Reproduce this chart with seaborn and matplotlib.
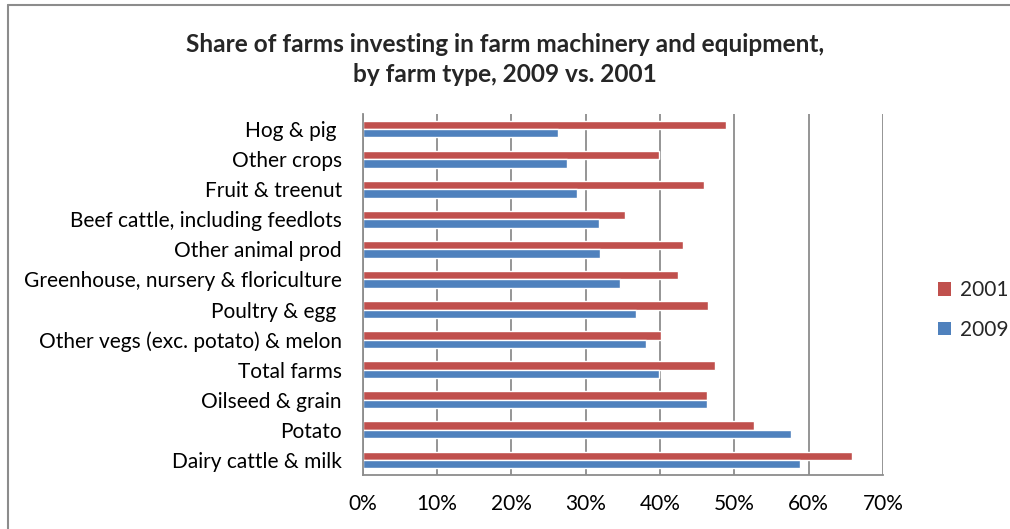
import matplotlib
matplotlib.use("Agg")
import matplotlib.pyplot as plt
from matplotlib.lines import Line2D
from matplotlib.patches import Patch
from matplotlib.ticker import FuncFormatter
import seaborn as sns
import pandas as pd

farm_types = [
    "Hog & pig ",
    "Other crops",
    "Fruit & treenut",
    "Beef cattle, including feedlots",
    "Other animal prod",
    "Greenhouse, nursery & floriculture",
    "Poultry & egg ",
    "Other vegs (exc. potato) & melon",
    "Total farms",
    "Oilseed & grain",
    "Potato",
    "Dairy cattle & milk",
]
share_2001 = [48.9, 39.9, 45.9, 35.3, 43.1, 42.4, 46.5, 40.2, 47.4, 46.3, 52.7, 65.9]
share_2009 = [26.3, 27.5, 28.8, 31.8, 32.0, 34.6, 36.8, 38.1, 39.9, 46.4, 57.6, 58.9]
years = ["2001", "2009"]
x_ticks = [0, 10, 20, 30, 40, 50, 60, 70]

df = pd.DataFrame({
    "type": farm_types * 2,
    "share": share_2001 + share_2009,
    "year": [years[0]] * len(farm_types) + [years[1]] * len(farm_types),
})

colors = {"2001": "#C0504D", "2009": "#4F81BD"}
grid_color = "#8C8C8C"

sns.set_style("white")
plt.rcParams["font.family"] = ["Lato", "DejaVu Sans"]

fig = plt.figure(figsize=(10.10, 5.29), dpi=100)
ax = fig.add_axes([0.3591, 0.1021, 0.5150, 0.6824])

sns.barplot(data=df, y="type", x="share", hue="year", hue_order=years,
            order=farm_types, palette=colors, width=0.56, orient="h",
            saturation=1, legend=False, ax=ax)

ax.set_xlim(0, 70)
ax.set_xticks(x_ticks)
ax.xaxis.set_major_formatter(FuncFormatter(lambda v, _: f"{v:.0f}%"))
ax.grid(axis="x", color=grid_color, linewidth=1.3)
ax.set_axisbelow(True)
ax.set_xlabel("")
ax.set_ylabel("")

for side in ["top", "right"]:
    ax.spines[side].set_visible(False)
for side in ["left", "bottom"]:
    ax.spines[side].set_color(grid_color)
    ax.spines[side].set_linewidth(1.3)

ax.tick_params(axis="x", length=0, pad=14, labelsize=15, colors="black")
ax.tick_params(axis="y", length=0, pad=15, labelsize=15, colors="black")

fig.text(0.5, 1 - 44 / 529, "Share of farms investing in farm machinery and equipment,",
         ha="center", va="center", fontsize=17.6, fontweight="bold")
fig.text(0.5, 1 - 74 / 529, "by farm type, 2009 vs. 2001",
         ha="center", va="center", fontsize=17.6, fontweight="bold")

handles = [Patch(facecolor=colors[y], edgecolor="none", label=y) for y in years]
fig.legend(handles=handles, loc="center left", bbox_to_anchor=(0.9287, 1 - 310 / 529),
           frameon=False, fontsize=15, handlelength=0.62, handleheight=0.62,
           handletextpad=0.45, labelspacing=0.95, borderaxespad=0, borderpad=0)

# chart-area outline
fig.add_artist(Line2D([8 / 1010, 1.0], [1 - 5 / 529, 1 - 5 / 529],
                      transform=fig.transFigure, color="#8C8C8C", linewidth=1.5))
fig.add_artist(Line2D([8 / 1010, 8 / 1010], [0.0, 1 - 5 / 529],
                      transform=fig.transFigure, color="#8C8C8C", linewidth=1.5))

fig.savefig("out.png", dpi=100, facecolor="white")
